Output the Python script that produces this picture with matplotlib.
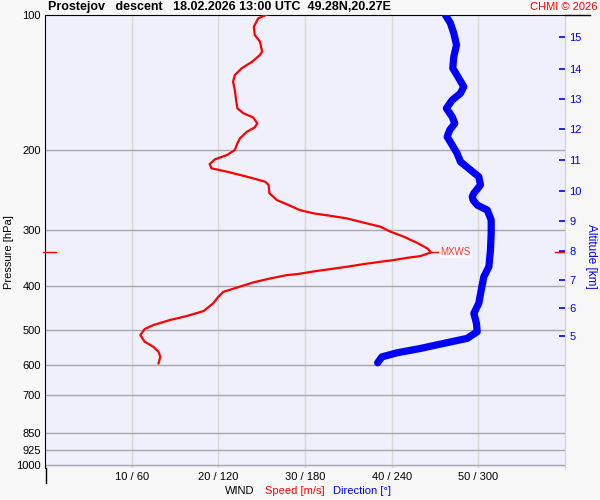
import numpy as np
import matplotlib
matplotlib.use('Agg')
import matplotlib.pyplot as plt
from matplotlib.ticker import NullLocator
from matplotlib.lines import Line2D
import matplotlib.transforms as mtransforms

plt.rcParams['font.family'] = ['Liberation Sans', 'DejaVu Sans']

# wind speed profile (hPa, m/s)
speed_p = [100, 101.7, 106.2, 110.8, 114.6, 120.6, 122.7, 127.0, 131.3, 136.0,
           140.7, 146.8, 154.5, 161.2, 165.4, 168.8, 174.1, 177.7, 181.7, 187.9,
           192.8, 199.5, 204.7, 209.3, 214.4, 219.1, 222.9, 228.7, 234.6, 238.6,
           248.9, 257.7, 264.4, 271.3, 275.9, 279.3, 283.0, 289.4, 295.4, 303.0,
           310.9, 320.6, 330.0, 336.8, 343.3, 346.3, 350.4, 353.4, 357.6, 362.6,
           366.9, 371.3, 376.4, 378.4, 384.8, 392.7, 403.6, 412.0, 422.7, 437.2,
           454.7, 466.5, 476.2, 488.5, 498.6, 514.2, 532.1, 546.0, 560.2, 574.7,
           594.3]
speed_ms = [25.5, 24.6, 24.1, 24.2, 24.8, 25.05, 24.8, 23.9, 22.7, 21.9,
            21.7, 21.9, 22.05, 22.2, 22.9, 24.0, 24.5, 24.2, 23.3, 22.5,
            22.2, 21.9, 21.0, 19.6, 19.0, 19.2, 21.0, 23.3, 25.4, 25.8,
            25.9, 26.75, 28.1, 29.4, 31.0, 32.9, 34.8, 36.8, 38.7, 39.85,
            41.4, 42.9, 44.1, 44.55, 43.3, 41.8, 40.2, 38.7, 36.8, 34.8,
            32.9, 31.0, 29.1, 27.9, 26.0, 24.05, 22.1, 20.6, 20.0, 19.4,
            18.3, 16.35, 14.4, 12.5, 11.5, 11.0, 11.5, 12.5, 13.1, 13.3,
            13.1]

# wind direction profile (hPa, deg)
dir_p = [100, 104.3, 109.8, 116.6, 123.8, 131.3, 138.2, 144.3, 149.3, 154.5,
         161.2, 168.3, 174.1, 180.1, 186.4, 194.5, 202.9, 211.8, 221.0, 228.7,
         238.6, 248.9, 253.3, 257.7, 264.4, 271.3, 285.4, 305.6, 332.9, 362.6,
         381.6, 408.4, 437.2, 460.1, 484.3, 505.5, 522.9, 536.5, 550.6, 563.1,
         574.7, 592.5]
dir_deg = [277.2, 280.7, 283.0, 284.9, 283.0, 282.3, 286.5, 289.9, 287.6, 281.9,
           277.9, 281.9, 283.7, 280.2, 278.4, 281.9, 285.3, 287.6, 294.6, 300.3,
           301.5, 296.9, 295.8, 296.4, 299.2, 306.2, 308.9, 308.9, 308.4, 307.3,
           303.8, 302.0, 300.3, 296.9, 298.7, 299.2, 292.3, 276.1, 259.9, 243.7,
           233.3, 230.3]

p_levels = [100, 200, 300, 400, 500, 600, 700, 850, 925, 1000]
alt_km = [5, 6, 7, 8, 9, 10, 11, 12, 13, 14, 15]
alt_p = [517.6, 448.5, 388.7, 334.1, 286.6, 245.7, 210.3, 179.5, 153.9, 131.6, 112.1]
wind_speeds = [10, 20, 30, 40, 50, 60]
wind_dirs = [60, 120, 180, 240, 300, 360]

mxws_p = 337.0
mxws_speed = 44.55

fig = plt.figure(figsize=(6, 5), dpi=100, facecolor='#f8f8f8')
ax = fig.add_axes([45/600, 1-468/500, 520/600, 453/500])
ax.set_facecolor('#f0f0fc')

ax.set_yscale('log')
ax.set_ylim(1015, 100)
ax.set_xlim(0, 60)

# grids
for p in p_levels[1:]:
    ax.axhline(p, color='#a8a8a8', lw=1, zorder=1)
for s in wind_speeds[:-1]:
    ax.axvline(s, color='#d8d8d8', lw=1, zorder=0.5)

ax.plot(np.array(dir_deg) / 6.0, dir_p, color='#0000ff', lw=5.2,
        solid_capstyle='round', solid_joinstyle='round', zorder=3)
ax.plot(speed_ms, speed_p, color='#ff0000', lw=1.6, zorder=4)

# max wind marker
ax.plot([mxws_speed, mxws_speed + 0.75], [mxws_p, mxws_p], color='#ff0000', lw=1, zorder=4)
ax.text(mxws_speed + 1.1, mxws_p, 'MXWS', color='#ff3030', fontsize=7, va='center',
        ha='left', zorder=5,
        bbox=dict(facecolor='white', edgecolor='none', alpha=0.7, pad=0.5))
trans = mtransforms.blended_transform_factory(ax.transAxes, ax.transData)
ax.plot([-0.0045, 0.021], [mxws_p, mxws_p], color='#ff0000', lw=1, transform=trans,
        clip_on=False, zorder=6)
ax.plot([0.98, 1.0], [mxws_p, mxws_p], color='#ff0000', lw=1, transform=trans,
        clip_on=False, zorder=6)

# left axis
ax.set_yticks(p_levels)
ax.set_yticklabels([str(p) for p in p_levels])
ax.yaxis.set_minor_locator(NullLocator())
ax.tick_params(axis='y', length=0, pad=3, labelsize=8)

# bottom axis
ax.set_xticks(wind_speeds[:-1])
ax.set_xticklabels([f'{s} / {d}' for s, d in zip(wind_speeds[:-1], wind_dirs[:-1])])
ax.tick_params(axis='x', length=0, pad=3, labelsize=8)

ax.spines['bottom'].set_visible(False)
ax.spines['left'].set_color('black')
ax.spines['top'].set_color('black')
ax.spines['right'].set_color('#d0d0d8')

# right altitude axis
ax2 = ax.twinx()
ax2.set_yscale('log')
ax2.set_ylim(ax.get_ylim())
ax2.set_yticks(alt_p)
ax2.set_yticklabels([str(a) for a in alt_km])
ax2.yaxis.set_minor_locator(NullLocator())
ax2.tick_params(axis='y', direction='in', length=4, width=1.2, color='#0000ff',
                labelcolor='#0000ff', labelsize=8, pad=3)
for side in ['left', 'top', 'bottom']:
    ax2.spines[side].set_visible(False)
ax2.spines['right'].set_color('#d0d0d8')

# extra frame pieces
fig.add_artist(Line2D([565/600, 590/600], [1-15/500, 1-15/500], color='black', lw=1))
fig.add_artist(Line2D([45.5/600, 45.5/600], [1-468/500, 1-483/500], color='black', lw=1))

# texts
fig.text(48/600, 1-7/500, 'Prostejov   descent   18.02.2026 13:00 UTC  49.28N,20.27E',
         fontsize=9, fontweight='bold', ha='left', va='center')
fig.text(597/600, 1-7/500, 'CHMI © 2026', fontsize=8, color='#ff0000', ha='right', va='center')
fig.text(9/600, 1-252/500, 'Pressure [hPa]', rotation=90, fontsize=8, ha='center', va='center')
fig.text(591/600, 1-256/500, 'Altitude [km]', rotation=-90, fontsize=8.5, color='#0000ff',
         ha='center', va='center')
fig.text(225/600, 1-491/500, 'WIND', fontsize=8, ha='left', va='center')
fig.text(265/600, 1-491/500, 'Speed [m/s]', fontsize=8, color='#ff0000', ha='left', va='center')
fig.text(333/600, 1-491/500, 'Direction [°]', fontsize=8, color='#0000ff', ha='left', va='center')

fig.savefig('out.png', dpi=100, facecolor=fig.get_facecolor())
